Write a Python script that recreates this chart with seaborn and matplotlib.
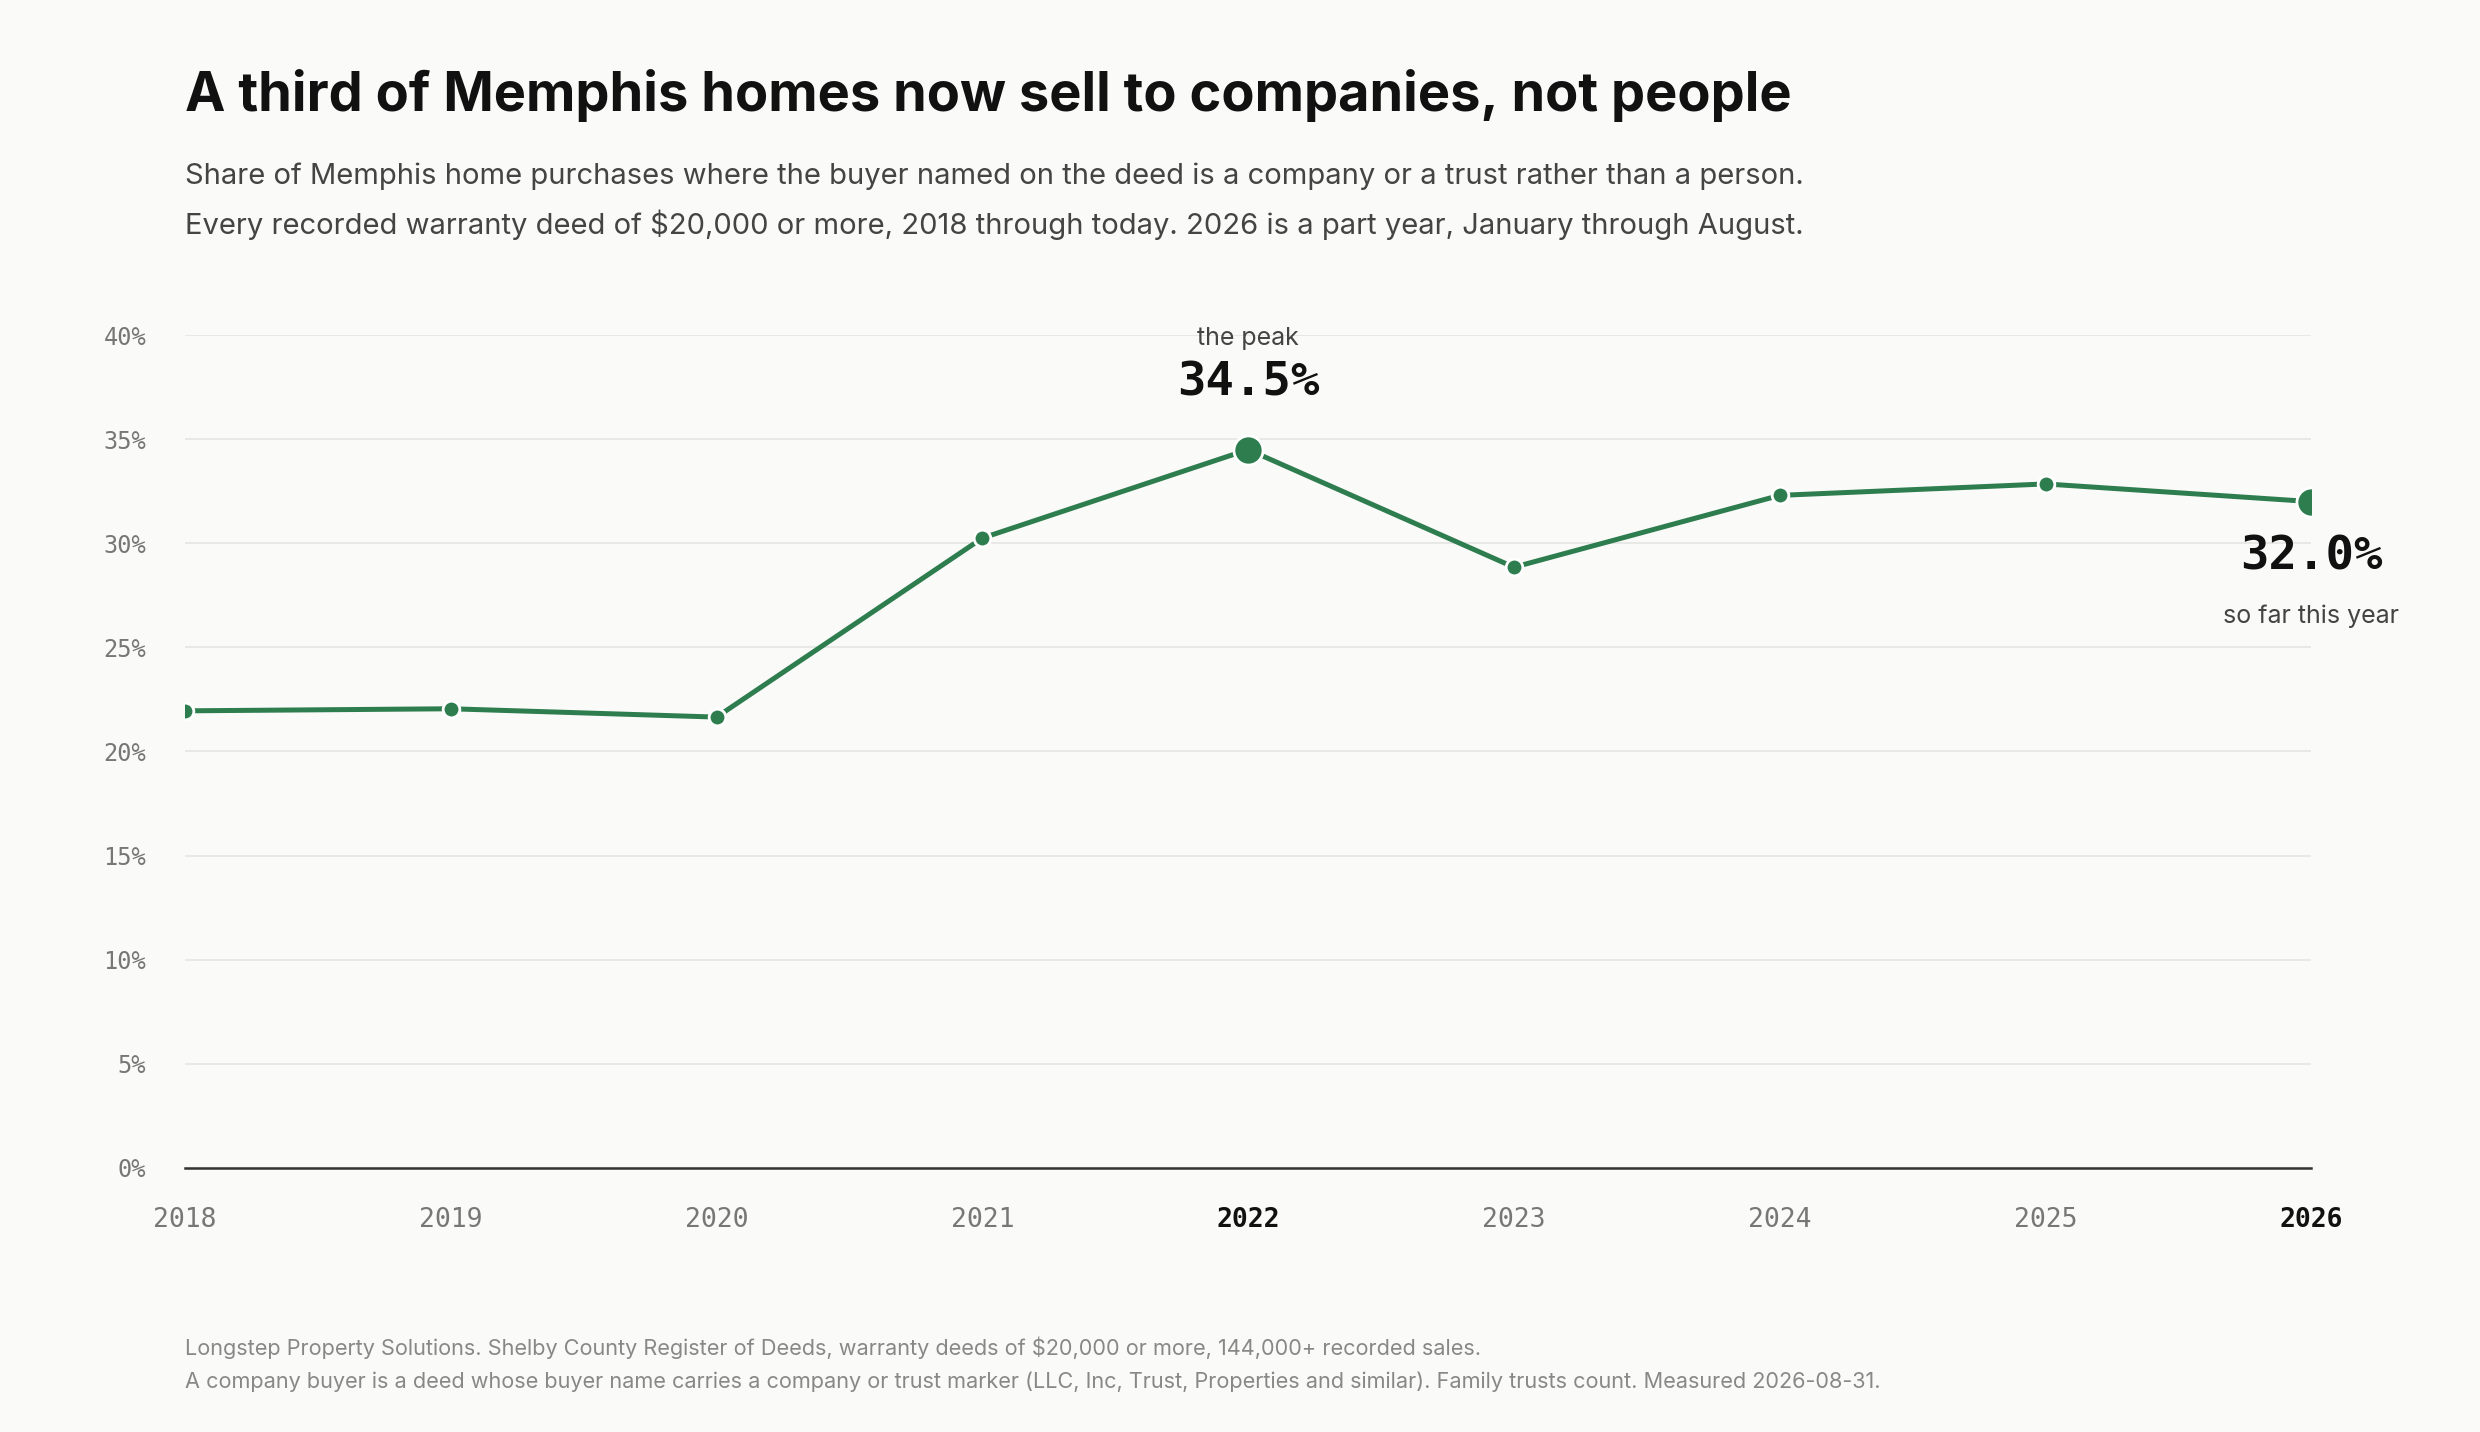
import matplotlib
matplotlib.use("Agg")
import matplotlib.pyplot as plt
import seaborn as sns
import pandas as pd

years = [2018, 2019, 2020, 2021, 2022, 2023, 2024, 2025, 2026]
share = [21.95, 22.05, 21.65, 30.25, 34.5, 28.85, 32.3, 32.85, 32.0]
yticks = [0, 5, 10, 15, 20, 25, 30, 35, 40]
bold_years = [2022, 2026]

df = pd.DataFrame({"year": years, "share": share})
green = "#2e7d4f"
bg = "#fafaf8"

sns.set_theme(style="white")
plt.rcParams['font.family'] = ['Inter', 'DejaVu Sans']
fig = plt.figure(figsize=(12.4, 7.16), dpi=200, facecolor=bg)
ax = fig.add_axes([0.0746, 0.1845, 0.8574, 0.5815], facecolor=bg)

sns.lineplot(data=df, x="year", y="share", ax=ax, color=green, lw=1.8,
             marker="o", markersize=6, markeredgecolor="white", markeredgewidth=1)
big = df[df.year.isin(bold_years)]
sns.scatterplot(data=big, x="year", y="share", ax=ax, color=green, s=110,
                edgecolor="white", linewidth=1, zorder=5)

ax.set_xlim(2018, 2026)
ax.set_ylim(0, 40)
ax.set_yticks(yticks)
ax.set_yticklabels([f"{v}%" for v in yticks], family="DejaVu Sans Mono", color="#777777", fontsize=8.5)
ax.set_xticks(years)
ax.set_xticklabels([str(y) for y in years], family="DejaVu Sans Mono", fontsize=9.5)
for lbl, y in zip(ax.get_xticklabels(), years):
    if y in bold_years:
        lbl.set_color("#111111"); lbl.set_fontweight("bold")
    else:
        lbl.set_color("#777777")
ax.tick_params(axis="x", length=0, pad=14)
ax.tick_params(axis="y", length=0, pad=14)
ax.set_xlabel(""); ax.set_ylabel("")
ax.grid(axis="y", color="#e8e8e6", lw=0.7)
for s in ["left", "right", "top"]:
    ax.spines[s].set_visible(False)
ax.spines["bottom"].set_color("#333333")
ax.spines["bottom"].set_linewidth(0.9)

ax.annotate("34.5%", (2022, 34.5), xytext=(0, 16), textcoords="offset points",
            ha="center", va="bottom", family="DejaVu Sans Mono", fontweight="bold",
            fontsize=17, color="#111111")
ax.annotate("the peak", (2022, 34.5), xytext=(0, 36), textcoords="offset points",
            ha="center", va="bottom", fontsize=9, color="#444444")
ax.annotate("32.0%", (2026, 32.0), xytext=(0, -12), textcoords="offset points",
            ha="center", va="top", family="DejaVu Sans Mono", fontweight="bold",
            fontsize=17, color="#111111")
ax.annotate("so far this year", (2026, 32.0), xytext=(0, -37), textcoords="offset points",
            ha="center", va="top", fontsize=9, color="#444444")

fig.text(0.0746, 0.933, "A third of Memphis homes now sell to companies, not people",
         fontsize=19.5, fontweight="bold", color="#111111", va="center")
fig.text(0.0746, 0.877, "Share of Memphis home purchases where the buyer named on the deed is a company or a trust rather than a person.",
         fontsize=10.5, color="#444444", va="center")
fig.text(0.0746, 0.843, "Every recorded warranty deed of $20,000 or more, 2018 through today. 2026 is a part year, January through August.",
         fontsize=10.5, color="#444444", va="center")
fig.text(0.0746, 0.059, "Longstep Property Solutions. Shelby County Register of Deeds, warranty deeds of $20,000 or more, 144,000+ recorded sales.",
         fontsize=7.8, color="#888888", va="center")
fig.text(0.0746, 0.035, "A company buyer is a deed whose buyer name carries a company or trust marker (LLC, Inc, Trust, Properties and similar). Family trusts count. Measured 2026-08-31.",
         fontsize=7.8, color="#888888", va="center")

fig.savefig("out.png", dpi=200, facecolor=bg)
